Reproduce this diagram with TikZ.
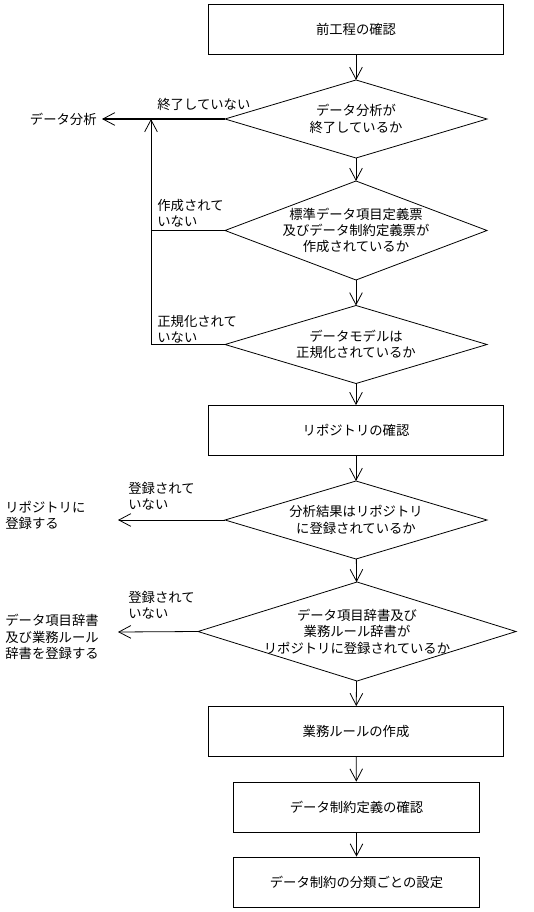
\documentclass[tikz,border=0pt]{standalone}
\usepackage{fontspec}
\setmainfont{Noto Sans CJK JP}
\usepackage{tikz}
\usetikzlibrary{shapes.geometric, arrows.meta, positioning, calc}

\begin{document}
\begin{tikzpicture}[x=0.75pt, y=-0.75pt,
    font=\fontsize{10pt}{12.3pt}\selectfont,
    line width=0.6pt,
    proc/.style={rectangle, draw, minimum width=221pt, minimum height=37.5pt, inner sep=0pt},
    procs/.style={proc, minimum width=184pt},
    dec/.style={diamond, draw, minimum width=196.5pt, minimum height=58.5pt, inner sep=0pt, outer sep=0pt},
    dectext/.style={align=center, inner sep=0pt},
    note/.style={align=left, anchor=west, inner sep=0pt},
    arr/.style={-{Straight Barb[length=9pt, width=9.5pt, line width=0.6pt]}},
]
    \useasboundingbox (0,0) rectangle (534,912);
    % Main flow
    \node[proc] (b1) at (356,29) {前工程の確認};
    \node[dec] (d1) at (356,119) {};
    \node[dectext] (t1) at (d1) {データ分析が\\終了しているか};
    \node[dec, minimum height=74.25pt] (d2) at (356,230.5) {};
    \node[dectext] (t2) at (d2) {標準データ項目定義票\\及びデータ制約定義票が\\作成されているか};
    \node[dec] (d3) at (356,344.5) {};
    \node[dectext] (t3) at (d3) {データモデルは\\正規化されているか};
    \node[proc] (b2) at (356,430.5) {リポジトリの確認};
    \node[dec] (d4) at (356,520) {};
    \node[dectext] (t4) at (d4) {分析結果はリポジトリ\\に登録されているか};
    \node[dec, minimum width=238.5pt, minimum height=74.25pt] (d5) at (357,631.5) {};
    \node[dectext] (t5) at (d5) {データ項目辞書及び\\業務ルール辞書が\\リポジトリに登録されているか};
    \node[proc] (b3) at (356,731.5) {業務ルールの作成};
    \node[procs] (b4) at (356.5,807) {データ制約定義の確認};
    \node[procs] (b5) at (356.5,882) {データ制約の分類ごとの設定};
    \foreach \a/\b in {b1/d1, d1/d2, d2/d3, d3/b2, b2/d4, d4/d5, d5/b3, b3/b4, b4/b5} {
        \draw[arr] (\a) -- (\b);
    }
    % Exits to the left
    \node[note, anchor=east] (e1) at (97,119) {データ分析};
    \node[note] (e2) at (5,515.5) {リポジトリに\\登録する};
    \node[note] (e3) at (5,637) {データ項目辞書\\及び業務ルール\\辞書を登録する};
    \coordinate (a2) at (118,520);
    \coordinate (a3) at (118,632);
    \draw[arr, line width=1.1pt] (d1.west) -- ($(e1.east)+(5,0)$);
    \draw[arr] (d4.west) -- (a2);
    \draw[arr] (d5.west) -- (a3);
    % Feedback line
    \coordinate (fb) at (151,119);
    \draw (d2.west) -- (d2.west -| fb);
    \draw[arr] (d3.west) -- (d3.west -| fb) -- (fb);
    % Branch labels
    \node[note] (l1) at (157,104) {終了していない};
    \node[note] (l2) at (157,213.5) {作成されて\\いない};
    \node[note] (l3) at (157,329.5) {正規化されて\\いない};
    \node[note] (l4) at (128,496.5) {登録されて\\いない};
    \node[note] (l5) at (128,605.5) {登録されて\\いない};
\end{tikzpicture}
\end{document}
